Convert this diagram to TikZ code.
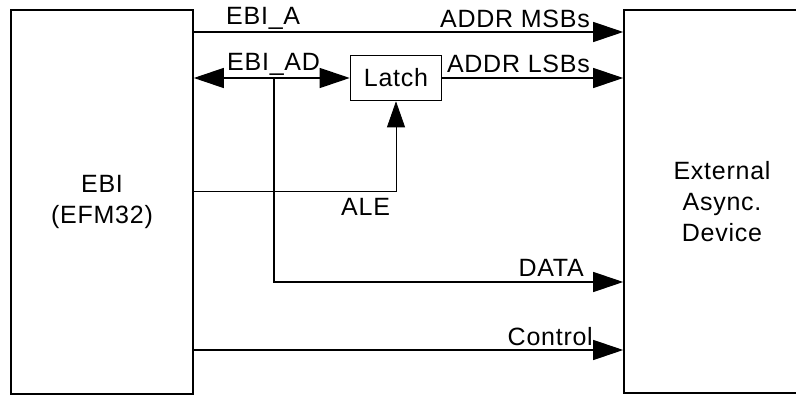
\documentclass[tikz,border=0pt]{standalone}
\usepackage{fontspec}
\setmainfont[LetterSpace=3]{Liberation Sans}
\usepackage{tikz}
\usetikzlibrary{arrows.meta, positioning, calc}
\definecolor{wire}{RGB}{0, 0, 0}

\begin{document}
\begin{tikzpicture}[x=1pt, y=1pt, font=\fontsize{25}{31}\selectfont,
  blk/.style={draw=wire, line width=1.6pt, fill=white, inner sep=0pt},
  sig/.style={draw=wire, line width=1.3pt},
  thin/.style={draw=wire, line width=0.8pt},
  tip/.style={-{Triangle[length=30pt, width=20pt]}}]
                \clip (0,0) rectangle (796,396);
                \useasboundingbox (0,0) rectangle (796,396);

                \node[blk, minimum width=182pt, minimum height=384pt, align=center] (ebi) at (102,194) {EBI\\(EFM32)};
                \node[blk, minimum width=196pt, minimum height=383pt, align=center] (ext) at (722,194.5) {External\\Async.\\Device};
                \node[blk, minimum width=91pt, minimum height=45pt] (latch) at (396,318) {Latch};

                \coordinate (fork) at (274,318);
                \coordinate (aleturn) at (396,205);

                \draw[sig, tip] (ebi.east |- 0,364) -- (ext.west |- 0,364);
                \draw[sig, {Triangle[length=30pt, width=20pt]}-{Triangle[length=30pt, width=20pt]}] (ebi.east |- fork) -- (latch.west);
                \draw[sig, tip] (latch.east) -- (ext.west |- latch.east);
                \draw[sig, tip] (fork) |- (ext.west |- 0,114);
                \draw[sig, tip] (ebi.east |- 0,46) -- (ext.west |- 0,46);
                \draw[thin, -{Triangle[length=26pt, width=18pt]}] (ebi.east |- aleturn) -- (aleturn) -- (latch.south);

                \node[anchor=base west, inner sep=0pt] (lblA) at (226,371) {EBI\_A};
                \node[anchor=base west, inner sep=0pt] (lblAD) at (227,325) {EBI\_AD};
                \node[anchor=base east, inner sep=0pt] (lblMSB) at (590,368) {ADDR MSBs};
                \node[anchor=base east, inner sep=0pt] (lblLSB) at (590,323) {ADDR LSBs};
                \node[anchor=base west, inner sep=0pt] (lblALE) at (341,180) {ALE};
                \node[anchor=base east, inner sep=0pt] (lblDATA) at (584,119) {DATA};
                \node[anchor=base east, inner sep=0pt] (lblCTRL) at (593,50) {Control};
            \end{tikzpicture}
\end{document}
